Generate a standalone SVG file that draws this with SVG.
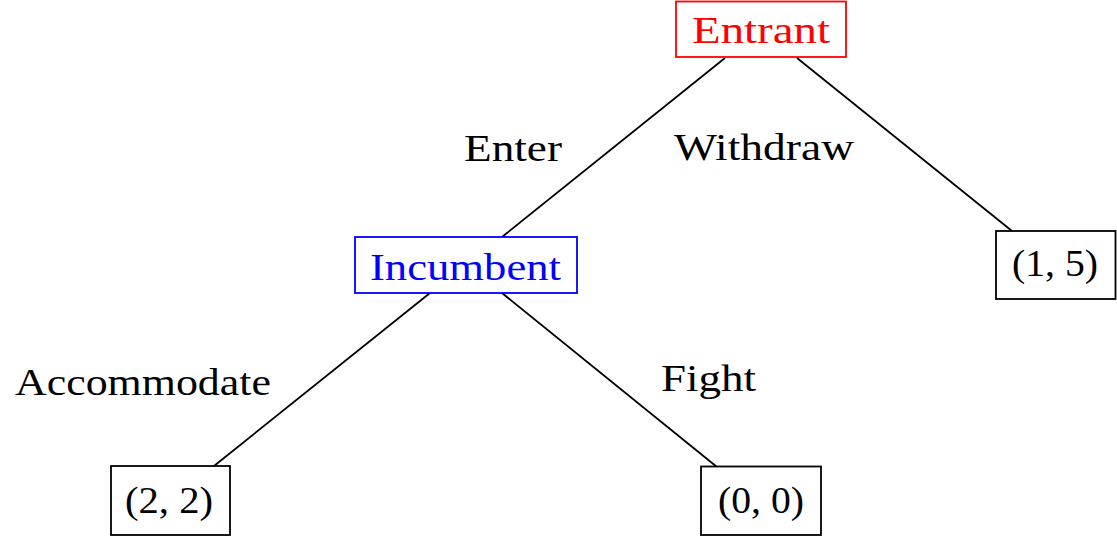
<svg xmlns="http://www.w3.org/2000/svg" width="1117" height="537" viewBox="0 0 1117 537">
<style>
text{font-family:"Liberation Serif","DejaVu Serif",serif;font-size:38px;fill:#000}
.box{fill:#fff;stroke:#000;stroke-width:1.8}
.edge{stroke:#000;stroke-width:1.8;fill:none}
</style>
<rect width="1117" height="537" fill="#fff"/>
<g id="connectors">
<line class="edge" x1="725" y1="58" x2="502" y2="237"/>
<line class="edge" x1="797" y1="58" x2="1012" y2="231"/>
<line class="edge" x1="430" y1="293" x2="214" y2="466"/>
<line class="edge" x1="502" y1="293" x2="717" y2="467"/>
<text x="464" y="161" textLength="98" lengthAdjust="spacingAndGlyphs">Enter</text>
<text x="674" y="160" textLength="180" lengthAdjust="spacingAndGlyphs">Withdraw</text>
<text x="15" y="395" textLength="256" lengthAdjust="spacingAndGlyphs">Accommodate</text>
<text x="661" y="391" textLength="95" lengthAdjust="spacingAndGlyphs">Fight</text>
</g>
<g id="entrant">
<rect class="box" x="676" y="1.5" width="170" height="55.5" style="stroke:#f00"/>
<text x="692" y="43" textLength="138" lengthAdjust="spacingAndGlyphs" style="fill:#f00">Entrant</text>
</g>
<g id="incumbent">
<rect class="box" x="355" y="237" width="222" height="56" style="stroke:#00f"/>
<text x="370" y="280" textLength="191" lengthAdjust="spacingAndGlyphs" style="fill:#00f">Incumbent</text>
</g>
<g id="payoff15">
<rect class="box" x="996" y="231" width="119.5" height="68"/>
<text x="1012" y="276" textLength="86" lengthAdjust="spacingAndGlyphs">(1, 5)</text>
</g>
<g id="payoff22">
<rect class="box" x="111" y="466" width="119" height="69"/>
<text x="125" y="513" textLength="88" lengthAdjust="spacingAndGlyphs">(2, 2)</text>
</g>
<g id="payoff00">
<rect class="box" x="701" y="466.5" width="120" height="68.5"/>
<text x="718" y="513" textLength="86" lengthAdjust="spacingAndGlyphs">(0, 0)</text>
</g>
</svg>
